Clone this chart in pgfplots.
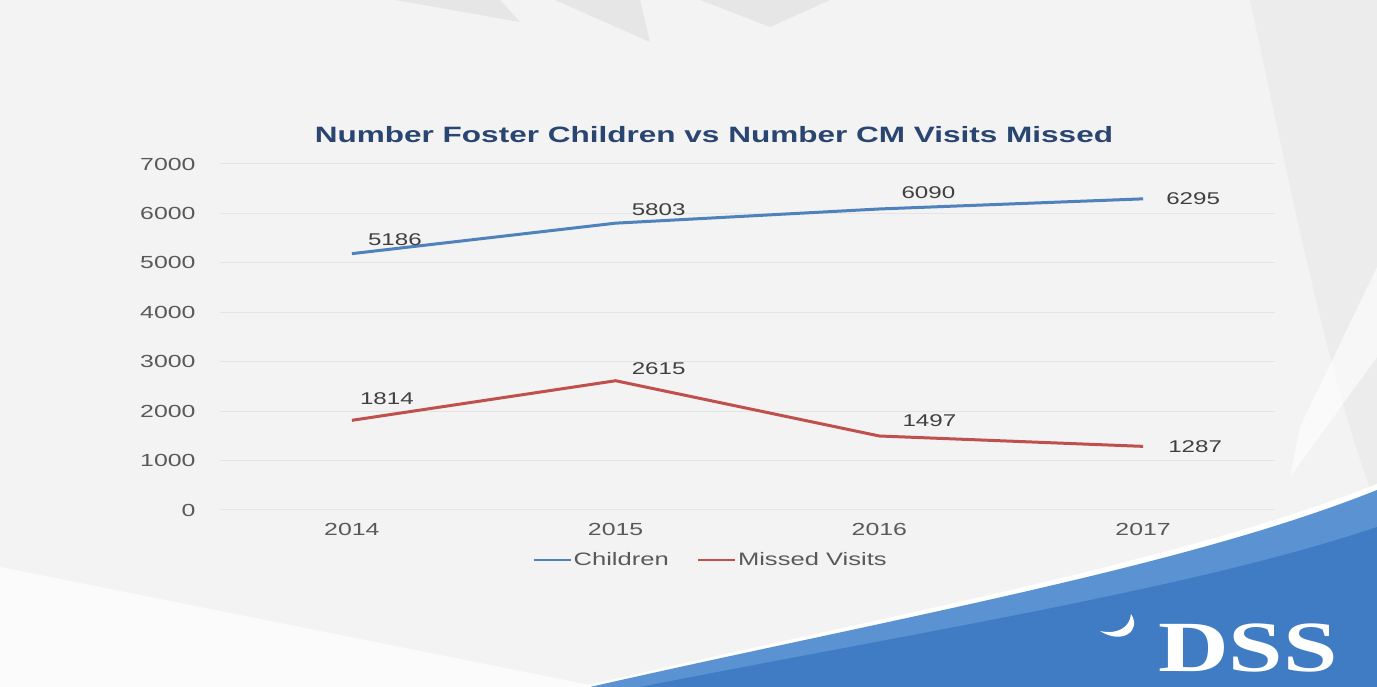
\documentclass[border=0pt]{standalone}
\usepackage{fontspec}
\setmainfont{Liberation Sans}[FakeStretch=1.42]
\newfontfamily\logofont{Liberation Serif}[FakeStretch=1.36]
\usepackage{pgfplots}
\pgfplotsset{compat=1.18}
\definecolor{bg}{HTML}{F3F3F3}
\definecolor{band}{HTML}{E6E6E6}
\definecolor{gridcol}{HTML}{E4E4E4}
\definecolor{tickcol}{HTML}{595959}
\definecolor{labcol}{HTML}{404040}
\definecolor{titlecol}{HTML}{2A4670}
\definecolor{cblue}{HTML}{4F81BD}
\definecolor{cred}{HTML}{C0504D}
\definecolor{dssblue}{HTML}{3F7CC4}
\definecolor{dsslight}{HTML}{5A92D2}
\begin{document}
\begin{tikzpicture}[x=1pt,y=1pt]
\fill[bg] (0,0) rectangle (1377,687);
% subtle background bands
\fill[band] (395,687) -- (500,687) -- (520,665) -- cycle;
\fill[band] (555,687) -- (640,687) -- (650,645) -- cycle;
\fill[band] (700,687) -- (830,687) -- (770,660) -- cycle;
\fill[white,opacity=0.7] (0,0) -- (0,120) .. controls (300,60) and (500,20) .. (600,0) -- cycle;
\fill[band,opacity=0.5] (1250,687) -- (1377,687) -- (1377,180) .. controls (1330,300) and (1290,500) .. (1250,687) -- cycle;
\fill[white,opacity=0.6] (1377,420) -- (1377,330) -- (1290,210) -- (1300,260) -- cycle;
% blue swoosh
\fill[white] (580,0) .. controls (880,70) and (1180,125) .. (1377,203) -- (1377,0) -- cycle;
\fill[dsslight] (590,0) .. controls (890,68) and (1185,120) .. (1377,197) -- (1377,0) -- cycle;
\fill[dssblue] (640,0) .. controls (920,55) and (1200,100) .. (1377,160) -- (1377,0) -- cycle;
% logo
\fill[white] (1131,73) .. controls (1142,56) and (1122,42) .. (1100,56) .. controls (1118,52) and (1130,60) .. (1131,73) -- cycle;
\node[text=white, font=\logofont\bfseries\fontsize{72}{80}\selectfont, anchor=base west, inner sep=0pt] at (1158,15) {DSS};
\useasboundingbox (0,0) rectangle (1377,687);
% title
\node[text=titlecol, font=\bfseries\fontsize{22.2}{25}\selectfont] at (714,552) {Number Foster Children vs Number CM Visits Missed};
\begin{axis}[
  at={(220pt,177pt)}, anchor=south west,
  scale only axis, width=1055pt, height=346pt,
  xmin=-0.5, xmax=3.5, ymin=0, ymax=7000,
  xtick={0,1,2,3}, xticklabels={2014,2015,2016,2017},
  ytick={0,1000,2000,3000,4000,5000,6000,7000},
  ymajorgrids, grid style={gridcol, line width=1pt},
  axis line style={draw=none},
  major tick length=0pt,
  tick label style={font=\fontsize{17.5}{20}\selectfont, text=tickcol},
  yticklabel style={xshift=-21pt},
  xticklabel style={yshift=-10pt},
  /pgf/number format/assume math mode=true,
  /pgf/number format/1000 sep={},
  clip=false,
  legend style={at={(0.465,-0.145)}, anchor=center, draw=none, fill=none,
    legend columns=2, font=\fontsize{18}{20}\selectfont, text=tickcol,
    /tikz/every even column/.append style={column sep=26pt},
    inner sep=0pt},
  legend image code/.code={\draw[#1, line width=2.2pt] (0pt,0pt) -- (37pt,0pt);},
]
\addplot[cblue, line width=3pt] coordinates {(0,5186) (1,5803) (2,6090) (3,6295)};
\addlegendentry{Children}
\addplot[cred, line width=3pt] coordinates {(0,1814) (1,2615) (2,1497) (3,1287)};
\addlegendentry{Missed Visits}
\begin{scope}[every node/.style={font=\fontsize{17}{20}\selectfont, text=labcol, inner sep=0pt}]
\node[xshift=43pt, yshift=14pt] at (axis cs:0,5186) {5186};
\node[xshift=43pt, yshift=14pt] at (axis cs:1,5803) {5803};
\node[xshift=49pt, yshift=16pt] at (axis cs:2,6090) {6090};
\node[xshift=50pt, yshift=0pt] at (axis cs:3,6295) {6295};
\node[xshift=35pt, yshift=22pt] at (axis cs:0,1814) {1814};
\node[xshift=43pt, yshift=12pt] at (axis cs:1,2615) {2615};
\node[xshift=50pt, yshift=15pt] at (axis cs:2,1497) {1497};
\node[xshift=52pt, yshift=0pt] at (axis cs:3,1287) {1287};
\end{scope}
\end{axis}
\end{tikzpicture}
\end{document}
